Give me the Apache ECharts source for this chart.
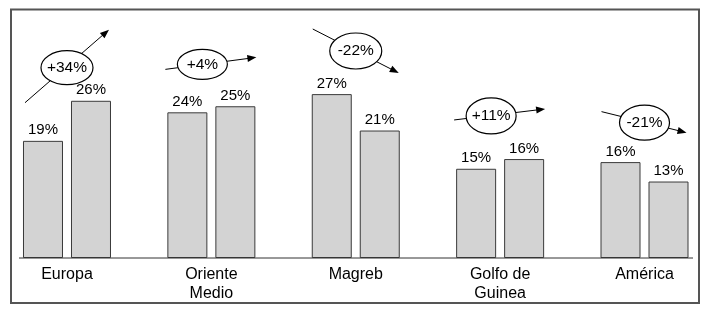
<!DOCTYPE html>
<html>
<head>
<meta charset="utf-8">
<script src="https://cdn.jsdelivr.net/npm/echarts@6/dist/echarts.min.js"></script>
<style>html,body{margin:0;padding:0;background:#fff;}#c{width:707px;height:322px;}</style>
</head>
<body>
<div id="c"></div>
<script>
const categories = ['Europa', 'Oriente\nMedio', 'Magreb', 'Golfo de\nGuinea', 'América'];
const before = [19.3, 24.0, 27.0, 14.7, 15.8];
const after = [25.9, 25.0, 21.0, 16.3, 12.6];
const changes = ['+34%', '+4%', '-22%', '+11%', '-21%'];

// annotation layout (decoration): y in value units, offsets in px
const annoLayout = [
  {dx: 0,  y: 31.35, rx: 26, ry: 17,   from: [-42, 35],  to: [42, -38]},
  {dx: -9, y: 31.9,  rx: 25, ry: 15,   from: [-37, 5],   to: [54, -7]},
  {dx: 0,  y: 34.1,  rx: 26, ry: 18,   from: [-43, -22], to: [43, 22]},
  {dx: -9, y: 23.4,  rx: 25, ry: 18,   from: [-37, 4],   to: [54, -7]},
  {dx: 0,  y: 22.3,  rx: 25, ry: 17.5, from: [-43, -11], to: [42, 10]}
];

const FONT = 'Liberation Sans, Arial, sans-serif';
const chart = echarts.init(document.getElementById('c'), null, {renderer: 'canvas'});
const barStyle = {color: '#d3d3d3', borderColor: '#3a3a3a', borderWidth: 1};
const lbl = {
  show: true, position: 'top', distance: 3, color: '#000',
  fontFamily: FONT, fontSize: 15,
  formatter: p => Math.round(p.value) + '%'
};
chart.setOption({
  animation: false,
  backgroundColor: '#fff',
  grid: {left: -5.2, width: 721.9, top: 15.2, bottom: 64, outerBoundsMode: 'none', containLabel: false},
  xAxis: {
    type: 'category', data: categories,
    axisLine: {show: false}, axisTick: {show: false},
    axisLabel: {color: '#000', fontFamily: FONT, fontSize: 16, lineHeight: 19, margin: 7, interval: 0}
  },
  yAxis: {type: 'value', min: 0, max: 40, show: false, splitLine: {show: false}},
  series: [
    {type: 'bar', data: before, barWidth: 40, barGap: '20%', itemStyle: barStyle, label: lbl},
    {type: 'bar', data: after, barWidth: 40, barGap: '20%', itemStyle: barStyle, label: lbl}
  ]
});

const g = [];
g.push({type: 'rect', shape: {x: 11, y: 9.5, width: 688, height: 293.5},
  style: {fill: 'none', stroke: '#555', lineWidth: 2}, z: 100});
const base = chart.convertToPixel({xAxisIndex: 0, yAxisIndex: 0}, [0, 0]);
g.push({type: 'line', shape: {x1: 19, y1: base[1], x2: 693, y2: base[1]},
  style: {stroke: '#333', lineWidth: 1}, z: 100});

annoLayout.forEach((a, i) => {
  const p = chart.convertToPixel({xAxisIndex: 0, yAxisIndex: 0}, [i, a.y]);
  const cx = p[0] + a.dx, cy = p[1];
  const x1 = cx + a.from[0], y1 = cy + a.from[1];
  const x2 = cx + a.to[0], y2 = cy + a.to[1];
  const ang = Math.atan2(y2 - y1, x2 - x1);
  const L = 9, W = 3.5;
  const bx = x2 - L * Math.cos(ang), by = y2 - L * Math.sin(ang);
  const ex = x2 - (L - 1) * Math.cos(ang), ey = y2 - (L - 1) * Math.sin(ang);
  g.push({type: 'line', shape: {x1: x1, y1: y1, x2: ex, y2: ey},
    style: {stroke: '#000', lineWidth: 1}, z: 101});
  g.push({type: 'polygon', shape: {points: [
      [x2, y2],
      [bx - W * Math.sin(ang), by + W * Math.cos(ang)],
      [bx + W * Math.sin(ang), by - W * Math.cos(ang)]
    ]}, style: {fill: '#000'}, z: 101});
  g.push({type: 'ellipse', shape: {cx: cx, cy: cy, rx: a.rx, ry: a.ry},
    style: {fill: '#fff', stroke: '#000', lineWidth: 1.2}, z: 102});
  g.push({type: 'text', x: cx, y: cy, z: 103,
    style: {text: changes[i], fill: '#000', font: '15.5px ' + FONT, align: 'center', verticalAlign: 'middle'}});
});
chart.setOption({graphic: g});
</script>
</body>
</html>
